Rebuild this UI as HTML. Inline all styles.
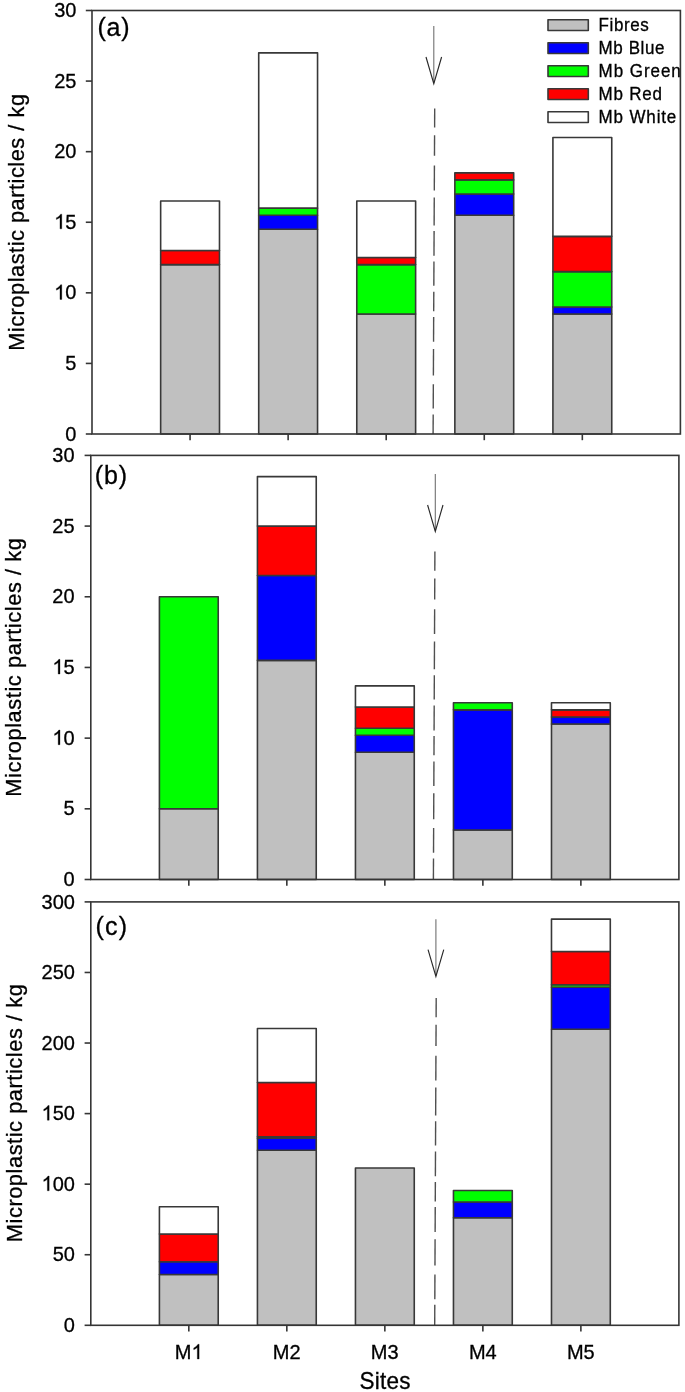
<!DOCTYPE html>
<html><head><meta charset="utf-8"><style>
html,body{margin:0;padding:0;background:#fff;width:685px;height:1392px;overflow:hidden}
svg text{font-family:"Liberation Sans", sans-serif;fill:#000;stroke:#000;stroke-width:0.3px}
svg{will-change:transform}
</style></head><body>
<svg width="685" height="1392" viewBox="0 0 685 1392" style="position:absolute;left:0;top:0">
<rect x="0" y="0" width="685" height="1392" fill="#ffffff"/>
<rect x="160.65" y="264.6" width="58.84" height="169.4" fill="#c0c0c0" stroke="#383838" stroke-width="1.6" stroke-linejoin="round"/>
<rect x="160.65" y="250.48" width="58.84" height="14.12" fill="#ff0000" stroke="#383838" stroke-width="1.6" stroke-linejoin="round"/>
<rect x="160.65" y="201.07" width="58.84" height="49.41" fill="#ffffff" stroke="#383838" stroke-width="1.6" stroke-linejoin="round"/>
<rect x="258.71" y="229.31" width="58.84" height="204.69" fill="#c0c0c0" stroke="#383838" stroke-width="1.6" stroke-linejoin="round"/>
<rect x="258.71" y="215.19" width="58.84" height="14.12" fill="#0000ff" stroke="#383838" stroke-width="1.6" stroke-linejoin="round"/>
<rect x="258.71" y="208.13" width="58.84" height="7.06" fill="#00ff00" stroke="#383838" stroke-width="1.6" stroke-linejoin="round"/>
<rect x="258.71" y="52.85" width="58.84" height="155.28" fill="#ffffff" stroke="#383838" stroke-width="1.6" stroke-linejoin="round"/>
<rect x="356.78" y="314.01" width="58.84" height="119.99" fill="#c0c0c0" stroke="#383838" stroke-width="1.6" stroke-linejoin="round"/>
<rect x="356.78" y="264.6" width="58.84" height="49.41" fill="#00ff00" stroke="#383838" stroke-width="1.6" stroke-linejoin="round"/>
<rect x="356.78" y="257.54" width="58.84" height="7.06" fill="#ff0000" stroke="#383838" stroke-width="1.6" stroke-linejoin="round"/>
<rect x="356.78" y="201.07" width="58.84" height="56.47" fill="#ffffff" stroke="#383838" stroke-width="1.6" stroke-linejoin="round"/>
<rect x="454.85" y="215.19" width="58.84" height="218.81" fill="#c0c0c0" stroke="#383838" stroke-width="1.6" stroke-linejoin="round"/>
<rect x="454.85" y="194.02" width="58.84" height="21.18" fill="#0000ff" stroke="#383838" stroke-width="1.6" stroke-linejoin="round"/>
<rect x="454.85" y="179.9" width="58.84" height="14.12" fill="#00ff00" stroke="#383838" stroke-width="1.6" stroke-linejoin="round"/>
<rect x="454.85" y="172.84" width="58.84" height="7.06" fill="#ff0000" stroke="#383838" stroke-width="1.6" stroke-linejoin="round"/>
<rect x="552.91" y="314.01" width="58.84" height="119.99" fill="#c0c0c0" stroke="#383838" stroke-width="1.6" stroke-linejoin="round"/>
<rect x="552.91" y="306.95" width="58.84" height="7.06" fill="#0000ff" stroke="#383838" stroke-width="1.6" stroke-linejoin="round"/>
<rect x="552.91" y="271.66" width="58.84" height="35.29" fill="#00ff00" stroke="#383838" stroke-width="1.6" stroke-linejoin="round"/>
<rect x="552.91" y="236.37" width="58.84" height="35.29" fill="#ff0000" stroke="#383838" stroke-width="1.6" stroke-linejoin="round"/>
<rect x="552.91" y="137.55" width="58.84" height="98.82" fill="#ffffff" stroke="#383838" stroke-width="1.6" stroke-linejoin="round"/>
<line x1="434.7" y1="108.4" x2="434.61" y2="127.6" stroke="#505050" stroke-width="1.4"/>
<line x1="434.57" y1="135.2" x2="434.47" y2="155.7" stroke="#505050" stroke-width="1.4"/>
<line x1="434.42" y1="165.5" x2="434.3" y2="190.5" stroke="#505050" stroke-width="1.4"/>
<line x1="434.26" y1="197.5" x2="434.12" y2="225.5" stroke="#505050" stroke-width="1.4"/>
<line x1="434.1" y1="230.9" x2="433.98" y2="255.8" stroke="#505050" stroke-width="1.4"/>
<line x1="433.95" y1="261.4" x2="433.83" y2="285.7" stroke="#505050" stroke-width="1.4"/>
<line x1="433.8" y1="291.8" x2="433.7" y2="311.3" stroke="#505050" stroke-width="1.4"/>
<line x1="433.67" y1="317" x2="433.55" y2="341.7" stroke="#505050" stroke-width="1.4"/>
<line x1="433.52" y1="349" x2="433.39" y2="375.4" stroke="#505050" stroke-width="1.4"/>
<line x1="433.34" y1="384.2" x2="433.23" y2="408.5" stroke="#505050" stroke-width="1.4"/>
<line x1="433.2" y1="414.6" x2="433.1" y2="434" stroke="#505050" stroke-width="1.4"/>
<line x1="433.8" y1="26.1" x2="433.8" y2="82.8" stroke="#707070" stroke-width="1.1"/>
<polyline points="426,57 433.8,83.6 441.6,57" fill="none" stroke="#282828" stroke-width="1.15" stroke-linejoin="miter"/>
<rect x="92" y="10.5" width="588.4" height="423.5" fill="none" stroke="#353535" stroke-width="1.6"/>
<line x1="85.8" y1="434" x2="92" y2="434" stroke="#353535" stroke-width="1.6"/>
<g transform="translate(65.28,440.6)"><text transform="translate(0,0) scale(1,1.04)" font-size="20">0</text></g>
<line x1="85.8" y1="363.42" x2="92" y2="363.42" stroke="#353535" stroke-width="1.6"/>
<g transform="translate(65.28,370.02)"><text transform="translate(0,0) scale(1,1.04)" font-size="20">5</text></g>
<line x1="85.8" y1="292.83" x2="92" y2="292.83" stroke="#353535" stroke-width="1.6"/>
<g transform="translate(54.15,299.43)"><path transform="translate(0,0) scale(0.01)" d="M763,0L583,0L583,-1147Q518,-1085 412.5,-1023Q307,-961 223,-930L223,-1104Q374,-1175 480.5,-1270Q587,-1365 647,-1472L763,-1472Z" fill="#000" stroke="#000" stroke-width="30.72"/><text transform="translate(11.12,0) scale(1,1.04)" font-size="20">0</text></g>
<line x1="85.8" y1="222.25" x2="92" y2="222.25" stroke="#353535" stroke-width="1.6"/>
<g transform="translate(54.15,228.85)"><path transform="translate(0,0) scale(0.01)" d="M763,0L583,0L583,-1147Q518,-1085 412.5,-1023Q307,-961 223,-930L223,-1104Q374,-1175 480.5,-1270Q587,-1365 647,-1472L763,-1472Z" fill="#000" stroke="#000" stroke-width="30.72"/><text transform="translate(11.12,0) scale(1,1.04)" font-size="20">5</text></g>
<line x1="85.8" y1="151.67" x2="92" y2="151.67" stroke="#353535" stroke-width="1.6"/>
<g transform="translate(54.15,158.27)"><text transform="translate(0,0) scale(1,1.04)" font-size="20">20</text></g>
<line x1="85.8" y1="81.08" x2="92" y2="81.08" stroke="#353535" stroke-width="1.6"/>
<g transform="translate(54.15,87.68)"><text transform="translate(0,0) scale(1,1.04)" font-size="20">25</text></g>
<line x1="85.8" y1="10.5" x2="92" y2="10.5" stroke="#353535" stroke-width="1.6"/>
<g transform="translate(54.15,17.1)"><text transform="translate(0,0) scale(1,1.04)" font-size="20">30</text></g>
<line x1="190.07" y1="434" x2="190.07" y2="440.2" stroke="#353535" stroke-width="1.6"/>
<line x1="288.13" y1="434" x2="288.13" y2="440.2" stroke="#353535" stroke-width="1.6"/>
<line x1="386.2" y1="434" x2="386.2" y2="440.2" stroke="#353535" stroke-width="1.6"/>
<line x1="484.27" y1="434" x2="484.27" y2="440.2" stroke="#353535" stroke-width="1.6"/>
<line x1="582.33" y1="434" x2="582.33" y2="440.2" stroke="#353535" stroke-width="1.6"/>
<text transform="translate(24.35,222.4) rotate(-90) scale(1,1.04)" x="0" y="0" font-size="21.8" text-anchor="middle" textLength="256.9">Microplastic particles / kg</text>
<text transform="translate(97.5,36)" font-size="25" textLength="32">(a)</text>
<rect x="159.41" y="808.82" width="58.81" height="70.68" fill="#c0c0c0" stroke="#383838" stroke-width="1.6" stroke-linejoin="round"/>
<rect x="159.41" y="596.77" width="58.81" height="212.05" fill="#00ff00" stroke="#383838" stroke-width="1.6" stroke-linejoin="round"/>
<rect x="257.43" y="660.38" width="58.81" height="219.12" fill="#c0c0c0" stroke="#383838" stroke-width="1.6" stroke-linejoin="round"/>
<rect x="257.43" y="575.56" width="58.81" height="84.82" fill="#0000ff" stroke="#383838" stroke-width="1.6" stroke-linejoin="round"/>
<rect x="257.43" y="526.08" width="58.81" height="49.48" fill="#ff0000" stroke="#383838" stroke-width="1.6" stroke-linejoin="round"/>
<rect x="257.43" y="476.61" width="58.81" height="49.48" fill="#ffffff" stroke="#383838" stroke-width="1.6" stroke-linejoin="round"/>
<rect x="355.45" y="752.27" width="58.81" height="127.23" fill="#c0c0c0" stroke="#383838" stroke-width="1.6" stroke-linejoin="round"/>
<rect x="355.45" y="735.31" width="58.81" height="16.96" fill="#0000ff" stroke="#383838" stroke-width="1.6" stroke-linejoin="round"/>
<rect x="355.45" y="728.24" width="58.81" height="7.07" fill="#00ff00" stroke="#383838" stroke-width="1.6" stroke-linejoin="round"/>
<rect x="355.45" y="707.03" width="58.81" height="21.2" fill="#ff0000" stroke="#383838" stroke-width="1.6" stroke-linejoin="round"/>
<rect x="355.45" y="685.83" width="58.81" height="21.21" fill="#ffffff" stroke="#383838" stroke-width="1.6" stroke-linejoin="round"/>
<rect x="453.46" y="830.02" width="58.81" height="49.48" fill="#c0c0c0" stroke="#383838" stroke-width="1.6" stroke-linejoin="round"/>
<rect x="453.46" y="709.86" width="58.81" height="120.16" fill="#0000ff" stroke="#383838" stroke-width="1.6" stroke-linejoin="round"/>
<rect x="453.46" y="702.79" width="58.81" height="7.07" fill="#00ff00" stroke="#383838" stroke-width="1.6" stroke-linejoin="round"/>
<rect x="551.48" y="724" width="58.81" height="155.5" fill="#c0c0c0" stroke="#383838" stroke-width="1.6" stroke-linejoin="round"/>
<rect x="551.48" y="716.93" width="58.81" height="7.07" fill="#0000ff" stroke="#383838" stroke-width="1.6" stroke-linejoin="round"/>
<rect x="551.48" y="709.86" width="58.81" height="7.07" fill="#ff0000" stroke="#383838" stroke-width="1.6" stroke-linejoin="round"/>
<rect x="551.48" y="702.79" width="58.81" height="7.07" fill="#ffffff" stroke="#383838" stroke-width="1.6" stroke-linejoin="round"/>
<line x1="434.9" y1="551.6" x2="434.81" y2="570.7" stroke="#505050" stroke-width="1.4"/>
<line x1="434.78" y1="578.4" x2="434.68" y2="599.4" stroke="#505050" stroke-width="1.4"/>
<line x1="434.64" y1="609.2" x2="434.52" y2="634" stroke="#505050" stroke-width="1.4"/>
<line x1="434.49" y1="641.5" x2="434.36" y2="669.2" stroke="#505050" stroke-width="1.4"/>
<line x1="434.33" y1="675.3" x2="434.22" y2="699.6" stroke="#505050" stroke-width="1.4"/>
<line x1="434.2" y1="705.4" x2="434.08" y2="730.4" stroke="#505050" stroke-width="1.4"/>
<line x1="434.06" y1="736" x2="433.97" y2="755.2" stroke="#505050" stroke-width="1.4"/>
<line x1="433.94" y1="761.4" x2="433.83" y2="785.9" stroke="#505050" stroke-width="1.4"/>
<line x1="433.79" y1="793.2" x2="433.68" y2="819.3" stroke="#505050" stroke-width="1.4"/>
<line x1="433.64" y1="828.1" x2="433.52" y2="852.8" stroke="#505050" stroke-width="1.4"/>
<line x1="433.5" y1="858.6" x2="433.4" y2="879.5" stroke="#505050" stroke-width="1.4"/>
<line x1="435.3" y1="474" x2="435.3" y2="530.7" stroke="#707070" stroke-width="1.1"/>
<polyline points="427.6,505 435.3,531.5 443,505" fill="none" stroke="#282828" stroke-width="1.15" stroke-linejoin="miter"/>
<rect x="90.8" y="455.4" width="588.1" height="424.1" fill="none" stroke="#353535" stroke-width="1.6"/>
<line x1="84.6" y1="879.5" x2="90.8" y2="879.5" stroke="#353535" stroke-width="1.6"/>
<g transform="translate(63.48,886.1)"><text transform="translate(0,0) scale(1,1.04)" font-size="20">0</text></g>
<line x1="84.6" y1="808.82" x2="90.8" y2="808.82" stroke="#353535" stroke-width="1.6"/>
<g transform="translate(63.48,815.42)"><text transform="translate(0,0) scale(1,1.04)" font-size="20">5</text></g>
<line x1="84.6" y1="738.13" x2="90.8" y2="738.13" stroke="#353535" stroke-width="1.6"/>
<g transform="translate(52.35,744.73)"><path transform="translate(0,0) scale(0.01)" d="M763,0L583,0L583,-1147Q518,-1085 412.5,-1023Q307,-961 223,-930L223,-1104Q374,-1175 480.5,-1270Q587,-1365 647,-1472L763,-1472Z" fill="#000" stroke="#000" stroke-width="30.72"/><text transform="translate(11.12,0) scale(1,1.04)" font-size="20">0</text></g>
<line x1="84.6" y1="667.45" x2="90.8" y2="667.45" stroke="#353535" stroke-width="1.6"/>
<g transform="translate(52.35,674.05)"><path transform="translate(0,0) scale(0.01)" d="M763,0L583,0L583,-1147Q518,-1085 412.5,-1023Q307,-961 223,-930L223,-1104Q374,-1175 480.5,-1270Q587,-1365 647,-1472L763,-1472Z" fill="#000" stroke="#000" stroke-width="30.72"/><text transform="translate(11.12,0) scale(1,1.04)" font-size="20">5</text></g>
<line x1="84.6" y1="596.77" x2="90.8" y2="596.77" stroke="#353535" stroke-width="1.6"/>
<g transform="translate(52.35,603.37)"><text transform="translate(0,0) scale(1,1.04)" font-size="20">20</text></g>
<line x1="84.6" y1="526.08" x2="90.8" y2="526.08" stroke="#353535" stroke-width="1.6"/>
<g transform="translate(52.35,532.68)"><text transform="translate(0,0) scale(1,1.04)" font-size="20">25</text></g>
<line x1="84.6" y1="455.4" x2="90.8" y2="455.4" stroke="#353535" stroke-width="1.6"/>
<g transform="translate(52.35,462)"><text transform="translate(0,0) scale(1,1.04)" font-size="20">30</text></g>
<line x1="188.82" y1="879.5" x2="188.82" y2="885.7" stroke="#353535" stroke-width="1.6"/>
<line x1="286.83" y1="879.5" x2="286.83" y2="885.7" stroke="#353535" stroke-width="1.6"/>
<line x1="384.85" y1="879.5" x2="384.85" y2="885.7" stroke="#353535" stroke-width="1.6"/>
<line x1="482.87" y1="879.5" x2="482.87" y2="885.7" stroke="#353535" stroke-width="1.6"/>
<line x1="580.88" y1="879.5" x2="580.88" y2="885.7" stroke="#353535" stroke-width="1.6"/>
<text transform="translate(20.6,667.4) rotate(-90) scale(1,1.04)" x="0" y="0" font-size="21.8" text-anchor="middle" textLength="258.7">Microplastic particles / kg</text>
<text transform="translate(94.7,484.3)" font-size="25" textLength="32.3">(b)</text>
<rect x="159.41" y="1274.49" width="58.81" height="50.81" fill="#c0c0c0" stroke="#383838" stroke-width="1.6" stroke-linejoin="round"/>
<rect x="159.41" y="1261.79" width="58.81" height="12.7" fill="#0000ff" stroke="#383838" stroke-width="1.6" stroke-linejoin="round"/>
<rect x="159.41" y="1233.99" width="58.81" height="27.8" fill="#ff0000" stroke="#383838" stroke-width="1.6" stroke-linejoin="round"/>
<rect x="159.41" y="1206.75" width="58.81" height="27.24" fill="#ffffff" stroke="#383838" stroke-width="1.6" stroke-linejoin="round"/>
<rect x="257.43" y="1150.29" width="58.81" height="175.01" fill="#c0c0c0" stroke="#383838" stroke-width="1.6" stroke-linejoin="round"/>
<rect x="257.43" y="1138.3" width="58.81" height="12" fill="#0000ff" stroke="#383838" stroke-width="1.6" stroke-linejoin="round"/>
<rect x="257.43" y="1136.75" width="58.81" height="1.55" fill="#00ff00" stroke="#383838" stroke-width="1.6" stroke-linejoin="round"/>
<rect x="257.43" y="1082.55" width="58.81" height="54.2" fill="#ff0000" stroke="#383838" stroke-width="1.6" stroke-linejoin="round"/>
<rect x="257.43" y="1028.5" width="58.81" height="54.05" fill="#ffffff" stroke="#383838" stroke-width="1.6" stroke-linejoin="round"/>
<rect x="355.45" y="1167.94" width="58.81" height="157.36" fill="#c0c0c0" stroke="#383838" stroke-width="1.6" stroke-linejoin="round"/>
<rect x="453.46" y="1217.76" width="58.81" height="107.54" fill="#c0c0c0" stroke="#383838" stroke-width="1.6" stroke-linejoin="round"/>
<rect x="453.46" y="1201.95" width="58.81" height="15.81" fill="#0000ff" stroke="#383838" stroke-width="1.6" stroke-linejoin="round"/>
<rect x="453.46" y="1190.52" width="58.81" height="11.43" fill="#00ff00" stroke="#383838" stroke-width="1.6" stroke-linejoin="round"/>
<rect x="551.48" y="1029.2" width="58.81" height="296.1" fill="#c0c0c0" stroke="#383838" stroke-width="1.6" stroke-linejoin="round"/>
<rect x="551.48" y="987.29" width="58.81" height="41.92" fill="#0000ff" stroke="#383838" stroke-width="1.6" stroke-linejoin="round"/>
<rect x="551.48" y="984.75" width="58.81" height="2.54" fill="#00ff00" stroke="#383838" stroke-width="1.6" stroke-linejoin="round"/>
<rect x="551.48" y="951.44" width="58.81" height="33.31" fill="#ff0000" stroke="#383838" stroke-width="1.6" stroke-linejoin="round"/>
<rect x="551.48" y="919.12" width="58.81" height="32.32" fill="#ffffff" stroke="#383838" stroke-width="1.6" stroke-linejoin="round"/>
<line x1="436.2" y1="997.9" x2="436.11" y2="1017.3" stroke="#505050" stroke-width="1.4"/>
<line x1="436.08" y1="1024.7" x2="435.98" y2="1046" stroke="#505050" stroke-width="1.4"/>
<line x1="435.93" y1="1055.8" x2="435.82" y2="1080.4" stroke="#505050" stroke-width="1.4"/>
<line x1="435.79" y1="1087.6" x2="435.66" y2="1115.6" stroke="#505050" stroke-width="1.4"/>
<line x1="435.64" y1="1121.2" x2="435.52" y2="1145.5" stroke="#505050" stroke-width="1.4"/>
<line x1="435.5" y1="1151.5" x2="435.38" y2="1176.3" stroke="#505050" stroke-width="1.4"/>
<line x1="435.36" y1="1181.9" x2="435.27" y2="1201.5" stroke="#505050" stroke-width="1.4"/>
<line x1="435.24" y1="1207.1" x2="435.13" y2="1232" stroke="#505050" stroke-width="1.4"/>
<line x1="435.09" y1="1239.2" x2="434.97" y2="1265.6" stroke="#505050" stroke-width="1.4"/>
<line x1="434.93" y1="1274.5" x2="434.82" y2="1299.3" stroke="#505050" stroke-width="1.4"/>
<line x1="434.79" y1="1304.7" x2="434.7" y2="1325.3" stroke="#505050" stroke-width="1.4"/>
<line x1="435.9" y1="919.3" x2="435.9" y2="975.7" stroke="#707070" stroke-width="1.1"/>
<polyline points="428.05,949.7 435.9,976.5 443.75,949.7" fill="none" stroke="#282828" stroke-width="1.15" stroke-linejoin="miter"/>
<rect x="90.8" y="901.9" width="588.1" height="423.4" fill="none" stroke="#353535" stroke-width="1.6"/>
<line x1="84.6" y1="1325.3" x2="90.8" y2="1325.3" stroke="#353535" stroke-width="1.6"/>
<g transform="translate(63.78,1331.9)"><text transform="translate(0,0) scale(1,1.04)" font-size="20">0</text></g>
<line x1="84.6" y1="1254.73" x2="90.8" y2="1254.73" stroke="#353535" stroke-width="1.6"/>
<g transform="translate(52.65,1261.33)"><text transform="translate(0,0) scale(1,1.04)" font-size="20">50</text></g>
<line x1="84.6" y1="1184.17" x2="90.8" y2="1184.17" stroke="#353535" stroke-width="1.6"/>
<g transform="translate(41.53,1190.77)"><path transform="translate(0,0) scale(0.01)" d="M763,0L583,0L583,-1147Q518,-1085 412.5,-1023Q307,-961 223,-930L223,-1104Q374,-1175 480.5,-1270Q587,-1365 647,-1472L763,-1472Z" fill="#000" stroke="#000" stroke-width="30.72"/><text transform="translate(11.12,0) scale(1,1.04)" font-size="20">00</text></g>
<line x1="84.6" y1="1113.6" x2="90.8" y2="1113.6" stroke="#353535" stroke-width="1.6"/>
<g transform="translate(41.53,1120.2)"><path transform="translate(0,0) scale(0.01)" d="M763,0L583,0L583,-1147Q518,-1085 412.5,-1023Q307,-961 223,-930L223,-1104Q374,-1175 480.5,-1270Q587,-1365 647,-1472L763,-1472Z" fill="#000" stroke="#000" stroke-width="30.72"/><text transform="translate(11.12,0) scale(1,1.04)" font-size="20">50</text></g>
<line x1="84.6" y1="1043.03" x2="90.8" y2="1043.03" stroke="#353535" stroke-width="1.6"/>
<g transform="translate(41.53,1049.63)"><text transform="translate(0,0) scale(1,1.04)" font-size="20">200</text></g>
<line x1="84.6" y1="972.47" x2="90.8" y2="972.47" stroke="#353535" stroke-width="1.6"/>
<g transform="translate(41.53,979.07)"><text transform="translate(0,0) scale(1,1.04)" font-size="20">250</text></g>
<line x1="84.6" y1="901.9" x2="90.8" y2="901.9" stroke="#353535" stroke-width="1.6"/>
<g transform="translate(41.53,908.5)"><text transform="translate(0,0) scale(1,1.04)" font-size="20">300</text></g>
<line x1="188.82" y1="1325.3" x2="188.82" y2="1331.5" stroke="#353535" stroke-width="1.6"/>
<line x1="286.83" y1="1325.3" x2="286.83" y2="1331.5" stroke="#353535" stroke-width="1.6"/>
<line x1="384.85" y1="1325.3" x2="384.85" y2="1331.5" stroke="#353535" stroke-width="1.6"/>
<line x1="482.87" y1="1325.3" x2="482.87" y2="1331.5" stroke="#353535" stroke-width="1.6"/>
<line x1="580.88" y1="1325.3" x2="580.88" y2="1331.5" stroke="#353535" stroke-width="1.6"/>
<text transform="translate(22.1,1113.2) rotate(-90) scale(1,1.04)" x="0" y="0" font-size="21.8" text-anchor="middle" textLength="258">Microplastic particles / kg</text>
<text transform="translate(95.4,935.2)" font-size="25" textLength="31.6">(c)</text>
<rect x="548" y="19.7" width="40.3" height="10.8" fill="#c0c0c0" stroke="#383838" stroke-width="1.6" stroke-linejoin="round"/>
<text transform="translate(598.6,31.1) scale(1,1.04)" font-size="17" textLength="50.2">Fibres</text>
<rect x="548" y="42.7" width="40.3" height="10.8" fill="#0000ff" stroke="#383838" stroke-width="1.6" stroke-linejoin="round"/>
<text transform="translate(598.6,54.1) scale(1,1.04)" font-size="17" textLength="65.8">Mb Blue</text>
<rect x="548" y="65.7" width="40.3" height="10.8" fill="#00ff00" stroke="#383838" stroke-width="1.6" stroke-linejoin="round"/>
<text transform="translate(598.6,77.1) scale(1,1.04)" font-size="17" textLength="82.2">Mb Green</text>
<rect x="548" y="88.7" width="40.3" height="10.8" fill="#ff0000" stroke="#383838" stroke-width="1.6" stroke-linejoin="round"/>
<text transform="translate(598.6,100.1) scale(1,1.04)" font-size="17" textLength="63.3">Mb Red</text>
<rect x="548" y="111.7" width="40.3" height="10.8" fill="#ffffff" stroke="#383838" stroke-width="1.6" stroke-linejoin="round"/>
<text transform="translate(598.6,123.1) scale(1,1.04)" font-size="17" textLength="77.7">Mb White</text>
<g transform="translate(174.83,1359)"><text transform="translate(0,0) scale(1,1.04)" font-size="20">M</text><path transform="translate(16.66,0) scale(0.01)" d="M763,0L583,0L583,-1147Q518,-1085 412.5,-1023Q307,-961 223,-930L223,-1104Q374,-1175 480.5,-1270Q587,-1365 647,-1472L763,-1472Z" fill="#000" stroke="#000" stroke-width="30.72"/></g>
<g transform="translate(272.84,1359)"><text transform="translate(0,0) scale(1,1.04)" font-size="20">M2</text></g>
<g transform="translate(370.86,1359)"><text transform="translate(0,0) scale(1,1.04)" font-size="20">M3</text></g>
<g transform="translate(468.88,1359)"><text transform="translate(0,0) scale(1,1.04)" font-size="20">M4</text></g>
<g transform="translate(566.89,1359)"><text transform="translate(0,0) scale(1,1.04)" font-size="20">M5</text></g>
<text transform="translate(385,1388.8) scale(1,1.04)" font-size="22.5" text-anchor="middle" textLength="51.2">Sites</text>
</svg>
</body></html>
